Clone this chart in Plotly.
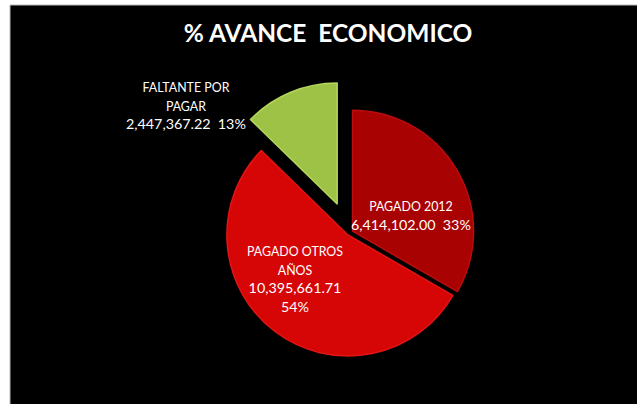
import plotly.graph_objects as go

labels = ["PAGADO 2012", "PAGADO OTROS AÑOS", "FALTANTE POR PAGAR"]
values = [6414102.00, 10395661.71, 2447367.22]
colors = ["#a90202", "#d60606", "#9dc246"]
edge_colors = ["#bb0d0d", "#e41414", "#b4d75c"]
pulls = [0.03, 0.02, 0.26]
title = "% AVANCE  ECONOMICO"
name_lines = ["PAGADO 2012", "PAGADO OTROS<br>AÑOS", "FALTANTE POR<br>PAGAR"]
value_lines = ["6,414,102.00  33%", "10,395,661.71<br>54%", "2,447,367.22  13%"]
text_x = [411, 295, 186]
text_y = [216, 279, 106]
W, H = 637, 404


def small(line):
    return "<br>".join(f'<span style="font-size:12.4px">{p}</span>' for p in line.split("<br>"))


texts = [small(n) + "<br>" + v for n, v in zip(name_lines, value_lines)]

fig = go.Figure(go.Pie(
    labels=labels, values=values, sort=False, direction="clockwise", rotation=0,
    pull=pulls, marker=dict(colors=colors, line=dict(color=edge_colors, width=1.5)),
    textinfo="none", hoverinfo="label+value+percent",
    domain=dict(x=[0.309, 0.788], y=[0.0458, 0.8007]),
    showlegend=False, automargin=False,
))
fig.update_layout(
    width=W, height=H, margin=dict(l=0, r=0, t=0, b=0),
    paper_bgcolor="#ffffff",
    title=dict(text=title, x=328/W, xanchor="center", y=1-33/H, yanchor="middle",
               font=dict(family="Lato", size=24.5, color="#ffffff", weight="bold")),
    shapes=[dict(type="rect", xref="paper", yref="paper", x0=10/W, x1=1.01, y0=-0.01, y1=1-5/H,
                 fillcolor="#000000", line=dict(width=1, color="#b8b8b8"), layer="below")],
    annotations=[dict(text=t, x=x/W, y=1-y/H, xref="paper", yref="paper", showarrow=False,
                      xanchor="center", yanchor="middle", align="center",
                      font=dict(family="Lato", size=14.3, color="#ffffff"))
                 for t, x, y in zip(texts, text_x, text_y)],
)
fig.write_html("out.html", config={"displayModeBar": False},
               post_script="document.body.style.margin='0';")
